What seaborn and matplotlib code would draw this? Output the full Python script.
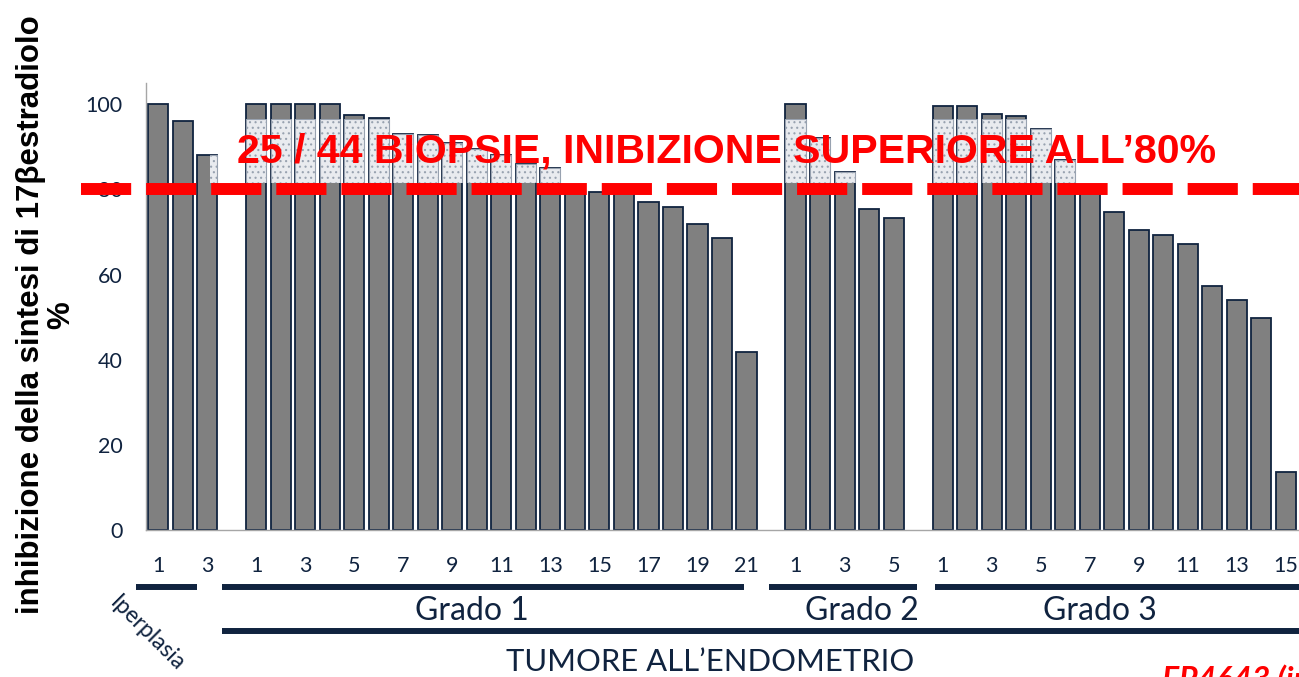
import matplotlib
matplotlib.use("Agg")
import matplotlib.pyplot as plt
import matplotlib.transforms as mtransforms
from matplotlib.patches import Rectangle
from matplotlib.lines import Line2D
import pandas as pd
import seaborn as sns

# values (% inhibition per biopsy)
iperplasia = [100, 96, 88]
grado1 = [100, 100, 100, 100, 97.5, 96.7, 93, 92.7, 91, 89.5, 88, 86, 85, 80,
          79.4, 79.3, 77, 75.9, 71.9, 68.5, 41.8]
grado2 = [100, 92, 84, 75.4, 73.3]
grado3 = [99.6, 99.5, 97.7, 97.3, 94.3, 87, 79.6, 74.6, 70.4, 69.2, 67.1,
          57.3, 54, 49.7, 13.7]
groups = [("Iperplasia", iperplasia), ("Grado 1", grado1),
          ("Grado 2", grado2), ("Grado 3", grado3)]
threshold = 80
title = "25 / 44 BIOPSIE, INIBIZIONE SUPERIORE ALL\u201980%"

# build slot positions with one empty slot between groups
rows = []
start = 0
for name, vals in groups:
    for i, v in enumerate(vals):
        rows.append({"pos": start + i, "val": v, "num": i + 1, "group": name})
    start += len(vals) + 1
df = pd.DataFrame(rows)

navy = "#10233f"
grey_axis = "#a6a6a6"

sns.set_style("white")
plt.rcParams["font.family"] = ["Lato", "DejaVu Sans"]
plt.rcParams["hatch.linewidth"] = 0.8

fig = plt.figure(figsize=(12.99, 6.77), dpi=100)
ax = fig.add_axes([146 / 1299, 1 - 530 / 677, 1152 / 1299, 447 / 677])

sns.barplot(data=df, x="pos", y="val", native_scale=True, width=0.82,
            color="#808080", saturation=1, edgecolor=navy, linewidth=1.3,
            ax=ax, zorder=2)

# dotted highlight behind the title text
hl = df[df["val"] > 81.5]
tops = hl["val"].clip(upper=96.5)
clip_rect = Rectangle((2.12, 81.5), 36.5, 15.0, transform=ax.transData)
over = ax.bar(hl["pos"], tops - 81.5, bottom=81.5, width=0.82,
              color="#e9ebef", edgecolor="#98a2b0", hatch="...",
              linewidth=0.8, zorder=3)
for b in over:
    b.set_clip_path(clip_rect)

ax.set_xlim(-0.5, 46.5)
ax.set_ylim(0, 105)
ax.set_yticks([0, 20, 40, 60, 80, 100])
ax.set_xlabel("")
ax.set_ylabel("")

# x ticks: labels on odd numbers, marks at the bar boundaries
ax.set_xticks(df.loc[df["num"] % 2 == 1, "pos"])
ax.set_xticklabels(df.loc[df["num"] % 2 == 1, "num"])
ax.set_xticks([p - 0.5 for p in range(48)], minor=True)
ax.tick_params(axis="x", which="major", length=0, pad=19, labelsize=15.5,
               labelcolor=navy)
ax.tick_params(axis="x", which="minor", length=6, color=grey_axis, width=1)
ax.tick_params(axis="y", length=7, color=grey_axis, width=1, labelsize=15.5,
               labelcolor=navy, pad=10)

sns.despine(ax=ax, top=True, right=True)
for s in ["left", "bottom"]:
    ax.spines[s].set_color(grey_axis)
    ax.spines[s].set_linewidth(1)

# red dashed threshold, running over the y tick label
ax.axhline(threshold, xmin=-0.056, xmax=1.01, color="#ff0000", lw=8.6,
           linestyle=(0, (4.2, 1.25)), clip_on=False, zorder=6)

ax.text(23.2, 88.8, title, ha="center", va="center", color="#ff0000",
        fontsize=29.6, fontweight="bold", family="Liberation Sans", zorder=7)

# group brackets below the axis
bt = mtransforms.blended_transform_factory(ax.transData, fig.transFigure)
y_grp = 1 - 587 / 677
y_tum = 1 - 631 / 677
spans = [(-0.9, 1.6), (2.6, 23.9), (24.9, 30.95), (31.7, 47.5)]
for x0, x1 in spans:
    fig.add_artist(Line2D([x0, x1], [y_grp, y_grp], color=navy, lw=4.3,
                          transform=bt, solid_capstyle="butt"))
fig.add_artist(Line2D([2.6, 47.5], [y_tum, y_tum], color=navy, lw=4.3,
                      transform=bt, solid_capstyle="butt"))

for name, xc in [("Grado 1", 12.8), ("Grado 2", 28.7), ("Grado 3", 38.4)]:
    fig.text(xc, 1 - 611 / 677, name, transform=bt, ha="center", va="center",
             fontsize=23, color=navy)
fig.text(22.5, 1 - 662 / 677, "TUMORE ALL\u2019ENDOMETRIO", transform=bt,
         ha="center", va="center", fontsize=22.3, color=navy)
fig.text(121 / 1299, 1 - 592 / 677, "Iperplasia", rotation=-45,
         rotation_mode="anchor", ha="left", va="top", fontsize=16.5,
         color=navy)

# footnote, cut by the figure edge as in the source slide
fig.text(1162 / 1299, 1 - 664 / 677, "FP4643 (in vitro)", ha="left",
         va="top", fontsize=23, color="#ff0000", fontweight="bold",
         fontstyle="italic")

fig.text(46 / 1299, 1 - 315 / 677,
         "inhibizione della sintesi di 17\u03b2estradiolo\n%",
         rotation=90, ha="center", va="center", multialignment="center",
         fontsize=22.5, fontweight="bold", linespacing=1.0,
         family="Liberation Sans", color="black")

fig.savefig("out.png", dpi=100)
